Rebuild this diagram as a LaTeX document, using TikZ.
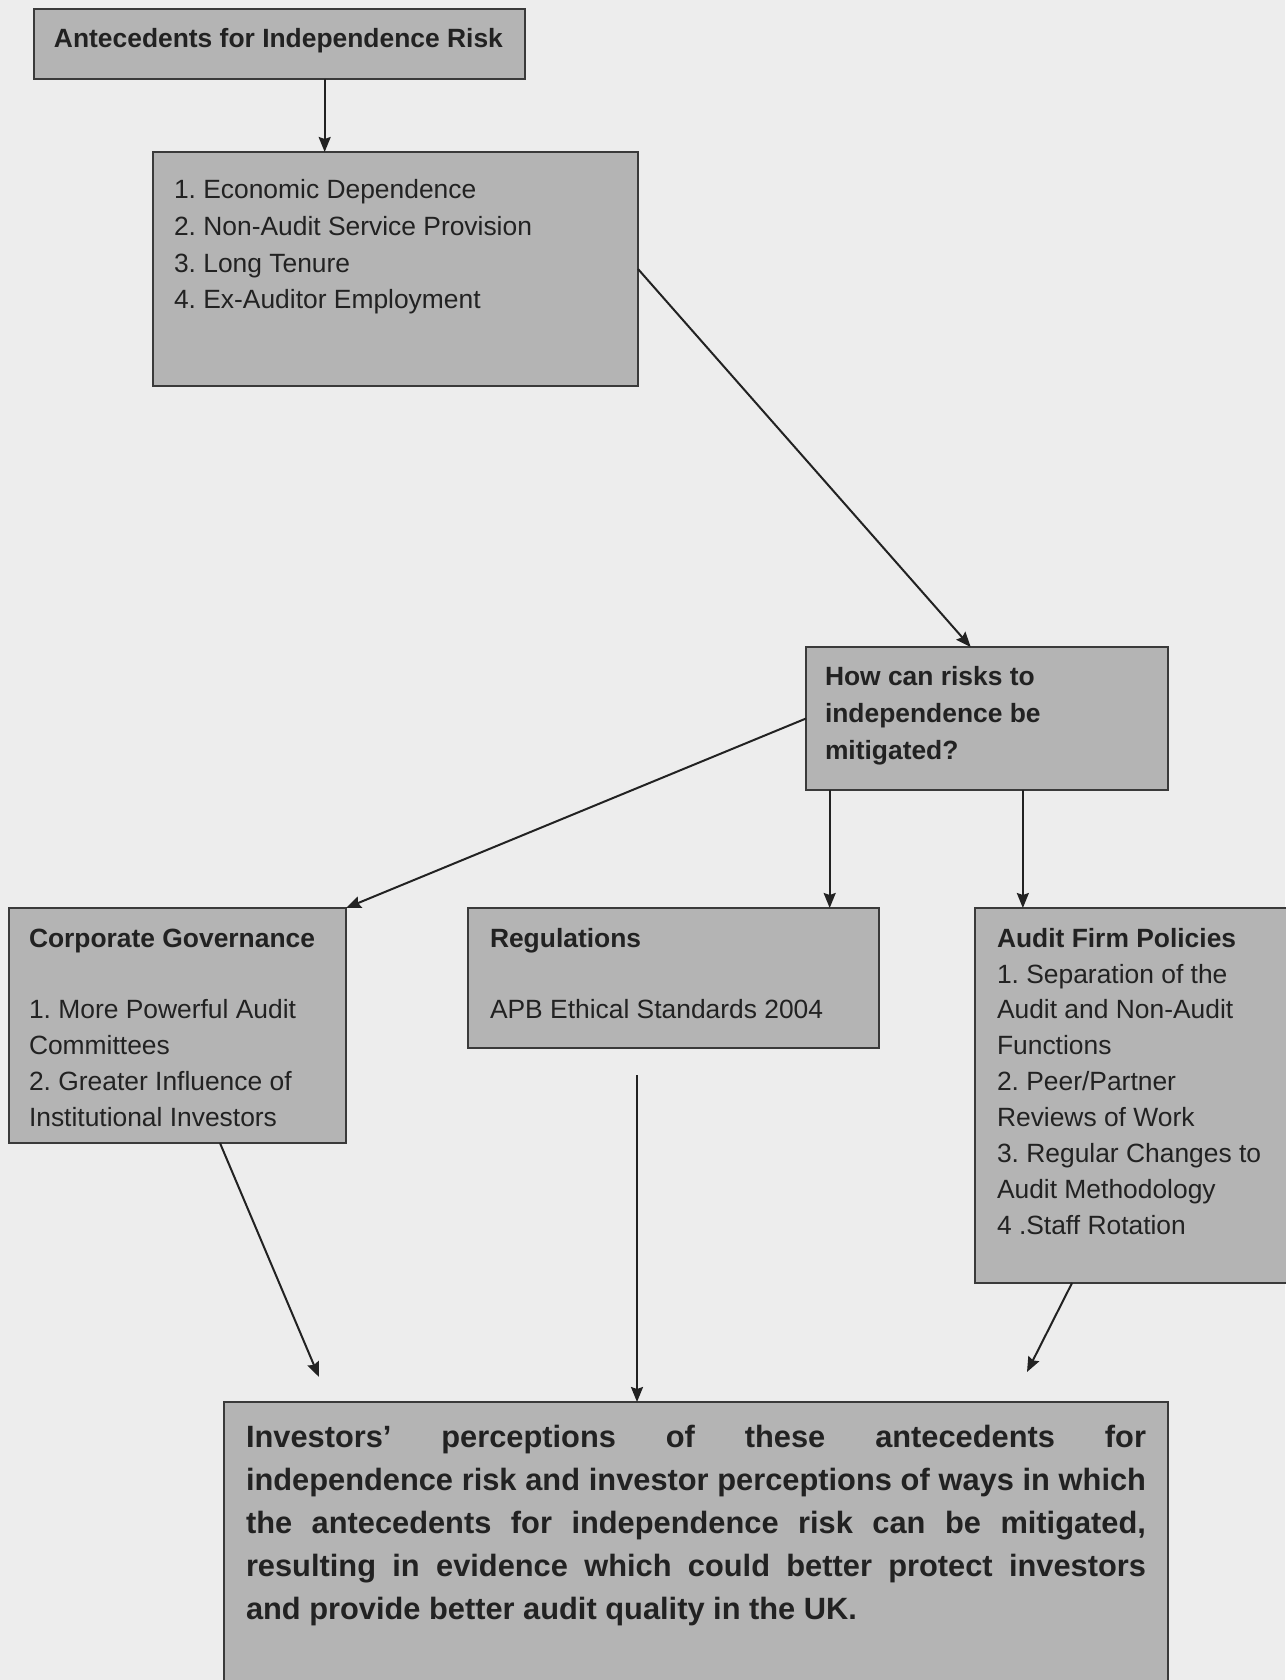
\documentclass[tikz,border=0pt]{standalone}
\usepackage{fontspec}
\setmainfont{Liberation Sans}
\usetikzlibrary{arrows.meta,calc}
\definecolor{bg}{HTML}{EDEDED}
\definecolor{boxfill}{HTML}{B4B4B4}
\definecolor{boxline}{HTML}{3A3A3A}
\definecolor{ink}{HTML}{222222}
\frenchspacing
\begin{document}
\begin{tikzpicture}[x=0.5pt,y=-0.5pt,
  box/.style={draw=boxline, line width=1pt, fill=boxfill, inner sep=0pt, outer sep=0pt, rectangle, anchor=north west},
  lbl/.style={inner sep=0pt, outer sep=0pt, anchor=base west, text=ink, font=\fontsize{13.2}{16}\selectfont},
  hd/.style={lbl, font=\fontsize{13.2}{16}\selectfont\bfseries},
  big/.style={lbl, font=\fontsize{15.4}{19}\selectfont\bfseries},
  arr/.style={draw=ink, line width=1pt, -{Stealth[length=7.5pt,width=6pt,inset=1pt]}}
]
\path[use as bounding box, fill=bg] (0,0) rectangle (1285,1680);

% boxes
\node[box, minimum width=245.5pt, minimum height=35pt] (top) at (34,9) {};
\node[box, minimum width=242.5pt, minimum height=117pt] (b2) at (153,152) {};
\node[box, minimum width=181pt, minimum height=71.5pt] (how) at (806,647) {};
\node[box, minimum width=168.5pt, minimum height=117.5pt] (cg) at (9,908) {};
\node[box, minimum width=205.5pt, minimum height=70pt] (reg) at (468,908) {};
\node[box, minimum width=165pt, minimum height=187.5pt] (afp) at (975,908) {};
\node[box, minimum width=472pt, minimum height=150pt] (bot) at (224,1402) {};

% texts
\node[hd] (t0) at (54,48) {Antecedents for Independence Risk};
\foreach \t [count=\i] in {1. Economic Dependence, 2. Non-Audit Service Provision, 3. Long Tenure, 4. Ex-Auditor Employment}
  \node[lbl] (b2l\i) at ({174},{199+36.5*(\i-1)}) {\t};
\foreach \t [count=\i] in {How can risks to, independence be, mitigated?}
  \node[hd] (howl\i) at ({825},{685+37*(\i-1)}) {\t};
\node[hd] (cgh) at (29,947) {Corporate Governance};
\foreach \t [count=\i] in {1. More Powerful Audit, Committees, 2. Greater Influence of, Institutional Investors}
  \node[lbl] (cgl\i) at ({29},{1018+36*(\i-1)}) {\t};
\node[hd] (regh) at (490,947) {Regulations};
\node[lbl] (regl1) at (490,1018) {APB Ethical Standards 2004};
\node[hd] (afph) at (997,947) {Audit Firm Policies};
\foreach \t [count=\i] in {1. Separation of the, Audit and Non-Audit, Functions, 2. Peer/Partner, Reviews of Work, 3. Regular Changes to, Audit Methodology, 4 .Staff Rotation}
  \node[lbl] (afpl\i) at ({997},{983+35.9*(\i-1)}) {\t};
\node[big] (bl1) at (246,1447) {\makebox[450pt][s]{Investors’ perceptions of these antecedents for}};
\node[big] (bl2) at (246,1490) {\makebox[450pt][s]{independence risk and investor perceptions of ways in which}};
\node[big] (bl3) at (246,1533) {\makebox[450pt][s]{the antecedents for independence risk can be mitigated,}};
\node[big] (bl4) at (246,1576) {\makebox[450pt][s]{resulting in evidence which could better protect investors}};
\node[big] (bl5) at (246,1619) {and provide better audit quality in the UK.};

% connectors
\coordinate (a1) at ($(top.south west)!0.592!(top.south east)$);
\draw[arr] (a1) -- (a1 |- b2.north);
\draw[arr] (b2.east) -- ($(how.north west)!0.455!(how.north east)$);
\draw[arr] (how.west) -- (cg.north east);
\coordinate (r1) at ($(reg.north west)!0.88!(reg.north east)$);
\draw[arr] (r1 |- how.south) -- (r1);
\coordinate (f1) at ($(afp.north west)!0.145!(afp.north east)$);
\draw[arr] (f1 |- how.south) -- (f1);
\coordinate (c2) at ($(cg.south west)!0.626!(cg.south east)$);
\coordinate (e1) at (319,1377);
\draw[arr] (c2) -- (e1);
\coordinate (s2) at (637,1075);
\draw[arr] (s2) -- (s2 |- bot.north);
\coordinate (f2) at ($(afp.south west)!0.294!(afp.south east)$);
\coordinate (e3) at (1027,1372);
\draw[arr] (f2) -- (e3);
\end{tikzpicture}
\end{document}
